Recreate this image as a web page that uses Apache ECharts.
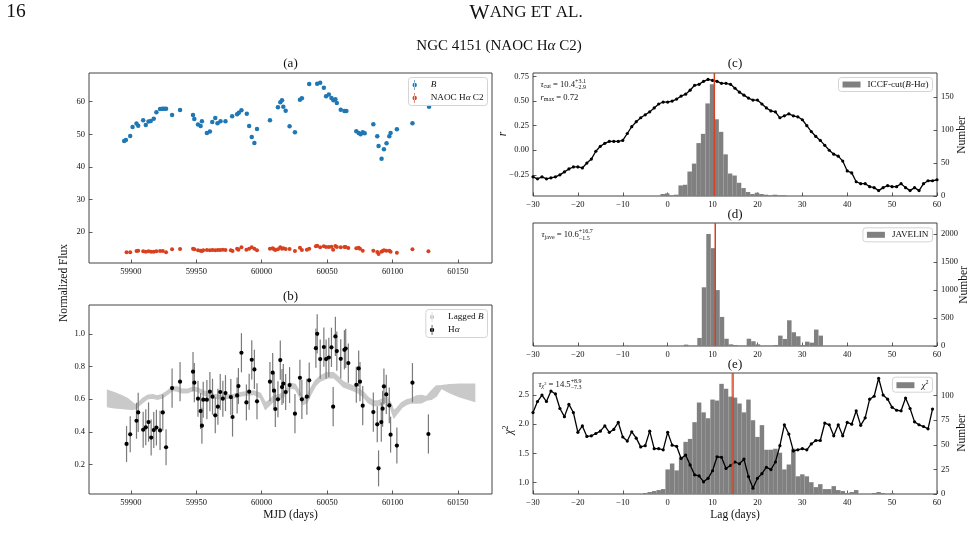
<!DOCTYPE html>
<html>
<head>
<meta charset="utf-8">
<title>NGC 4151 (NAOC Hα C2)</title>
<script src="https://cdn.jsdelivr.net/npm/echarts@6.0.0/dist/echarts.min.js"></script>
<style>
  html, body { margin: 0; padding: 0; background: #fff; }
  #chart { width: 975px; height: 547px; }
</style>
</head>
<body>
<div id="chart"></div>
<script>
// ---- (a) B band light curve ----
var bMjd = [59894.9, 59896.2, 59899.5, 59901.3, 59904.3, 59905.6, 59909.4, 59911.4, 59913.5, 59915.2,
  59917.5, 59919.5, 59922.3, 59924.1, 59925.4, 59926.9, 59931.5, 59937.6, 59947.5, 59948.5,
  59951.3, 59953.3, 59954.3, 59958.1, 59960.4, 59962.2, 59964.5, 59966.2, 59968.5, 59972.3,
  59977.4, 59981.2, 59982.5, 59984.5, 59988.6, 59990.4, 59992.4, 59994.4, 59996.4, 60006.3,
  60012.4, 60014.2, 60015.5, 60016.5, 60018.3, 60021.3, 60025.4, 60029.2, 60030.7, 60036.3,
  60042.4, 60044.7, 60047.5, 60049.2, 60051.3, 60053.3, 60054.8, 60056.3, 60057.4, 60060.4,
  60063.2, 60064.7, 60072.3, 60074.1, 60075.6, 60077.2, 60078.7, 60085.3, 60088.3, 60089.3,
  60091.6, 60093.4, 60095.4, 60097.5, 60098.5, 60103.3, 60115.2, 60127.9];
var bFlux = [47.96, 48.27, 49.49, 52.24, 53.27, 52.65, 54.29, 52.86, 53.88, 54.08,
  54.80, 56.73, 57.76, 57.86, 57.86, 57.86, 55.92, 57.45, 55.92, 54.69,
  52.96, 52.55, 53.98, 50.41, 50.82, 53.78, 55.00, 53.37, 53.98, 53.98,
  55.51, 56.12, 56.63, 57.35, 56.33, 52.55, 49.18, 47.35, 51.63, 54.29,
  58.27, 59.80, 60.41, 58.47, 57.24, 52.45, 50.61, 60.61, 61.02, 65.41,
  65.51, 65.82, 64.29, 61.63, 62.24, 61.12, 60.41, 60.71, 59.59, 57.55,
  57.14, 57.14, 50.92, 50.41, 50.00, 50.61, 50.31, 53.06, 49.39, 46.43,
  42.45, 45.41, 47.24, 49.39, 50.41, 51.53, 53.37, 58.47];

// ---- NAOC Halpha C2: epochs, flux in (a), normalized flux in (b) ----
var haMjd = [59896.7, 59899.5, 59904.3, 59905.6, 59909.4, 59911.4, 59913.5, 59915.5, 59917.5, 59919.5,
  59922.3, 59924.4, 59926.9, 59931.5, 59937.6, 59947.5, 59948.5, 59951.3, 59953.3, 59954.3,
  59955.3, 59958.1, 59960.4, 59962.4, 59964.5, 59966.5, 59968.3, 59970.3, 59972.3, 59976.4,
  59977.7, 59981.2, 59982.2, 59984.5, 59988.3, 59990.4, 59992.4, 59994.4, 59996.4, 60006.3,
  60008.4, 60009.4, 60010.4, 60012.4, 60014.2, 60015.5, 60016.5, 60018.3, 60021.3, 60025.4,
  60029.2, 60030.7, 60034.5, 60036.3, 60041.4, 60042.4, 60044.7, 60047.5, 60049.2, 60051.3,
  60053.3, 60054.6, 60056.3, 60057.4, 60060.4, 60063.2, 60064.2, 60066.2, 60072.3, 60074.1,
  60075.1, 60077.2, 60085.3, 60088.3, 60089.3, 60091.4, 60092.4, 60093.4, 60095.2, 60097.5,
  60098.5, 60103.3, 60115.2, 60127.4];
var haC2Flux = [13.77, 13.77, 14.18, 14.28, 14.07, 13.97, 14.07, 13.97, 13.97, 14.07,
  14.18, 14.18, 13.77, 14.69, 14.79, 14.89, 14.69, 14.38, 14.28, 14.18,
  14.38, 14.48, 14.38, 14.48, 14.38, 14.48, 14.48, 14.58, 14.48, 14.38,
  14.18, 14.89, 14.58, 15.30, 14.58, 14.89, 15.30, 14.89, 14.38, 14.89,
  14.99, 14.69, 14.48, 14.69, 15.30, 14.89, 14.99, 14.79, 14.79, 14.18,
  15.20, 14.48, 14.58, 14.89, 15.61, 15.81, 15.30, 15.61, 15.40, 15.40,
  15.50, 14.58, 15.71, 15.40, 15.30, 15.40, 15.40, 15.10, 14.99, 15.20,
  14.89, 14.28, 14.28, 13.87, 13.26, 13.97, 14.18, 14.38, 14.28, 14.28,
  13.97, 13.66, 14.69, 14.07];
var haNorm = [0.326, 0.385, 0.468, 0.519, 0.413, 0.428, 0.460, 0.365, 0.411, 0.426,
  0.409, 0.519, 0.306, 0.668, 0.707, 0.768, 0.701, 0.603, 0.527, 0.438,
  0.597, 0.597, 0.646, 0.615, 0.501, 0.554, 0.644, 0.603, 0.637, 0.613,
  0.491, 0.623, 0.680, 0.884, 0.580, 0.646, 0.841, 0.782, 0.587, 0.707,
  0.762, 0.652, 0.540, 0.599, 0.839, 0.674, 0.695, 0.644, 0.686, 0.511,
  0.731, 0.599, 0.615, 0.715, 0.912, 1.000, 0.845, 0.919, 0.845, 0.855,
  0.917, 0.554, 0.984, 0.894, 0.847, 0.902, 0.910, 0.821, 0.688, 0.788,
  0.707, 0.560, 0.521, 0.446, 0.177, 0.460, 0.542, 0.678, 0.629, 0.562,
  0.383, 0.316, 0.701, 0.387];
var haNormErr = [0.11, 0.11, 0.11, 0.12, 0.11, 0.11, 0.12, 0.11, 0.11, 0.11,
  0.12, 0.11, 0.11, 0.12, 0.12, 0.12, 0.12, 0.11, 0.11, 0.11,
  0.11, 0.12, 0.12, 0.11, 0.11, 0.11, 0.11, 0.11, 0.11, 0.11,
  0.12, 0.11, 0.11, 0.12, 0.11, 0.11, 0.12, 0.12, 0.11, 0.12,
  0.12, 0.11, 0.11, 0.11, 0.12, 0.11, 0.12, 0.11, 0.11, 0.12,
  0.11, 0.12, 0.11, 0.11, 0.12, 0.12, 0.12, 0.12, 0.12, 0.12,
  0.12, 0.12, 0.12, 0.12, 0.12, 0.12, 0.12, 0.12, 0.11, 0.11,
  0.12, 0.12, 0.12, 0.11, 0.11, 0.12, 0.11, 0.11, 0.12, 0.11,
  0.11, 0.11, 0.12, 0.12];

// ---- (b) lagged B band (lower / upper edge) ----
var lagBMjd = [59882.2, 59887.3, 59892.4, 59897.5, 59901.3, 59903.8, 59906.3, 59908.9, 59912.7, 59916.5,
  59920.3, 59924.1, 59927.9, 59931.7, 59935.5, 59939.3, 59943.1, 59948.2, 59952.0, 59955.8,
  59959.6, 59963.5, 59968.5, 59973.6, 59978.7, 59983.8, 59988.8, 59993.9, 59999.0, 60002.8,
  60005.3, 60009.1, 60014.2, 60018.0, 60021.8, 60025.6, 60028.7, 60031.5, 60034.5, 60037.1,
  60040.9, 60044.7, 60049.7, 60054.8, 60057.9, 60062.4, 60067.5, 60072.6, 60077.7, 60081.5,
  60085.3, 60089.1, 60092.9, 60095.9, 60098.5, 60101.0, 60103.6, 60106.9, 60110.7, 60114.5,
  60118.3, 60122.1, 60125.9, 60129.7, 60133.5, 60137.3, 60143.6, 60151.3, 60162.7];
var lagBLow = [0.554, 0.548, 0.544, 0.540, 0.538, 0.542, 0.562, 0.578, 0.603, 0.607,
  0.599, 0.609, 0.629, 0.654, 0.650, 0.640, 0.640, 0.654, 0.644, 0.627,
  0.615, 0.607, 0.603, 0.605, 0.609, 0.619, 0.625, 0.629, 0.609, 0.538,
  0.558, 0.589, 0.603, 0.623, 0.670, 0.664, 0.619, 0.568, 0.578, 0.623,
  0.680, 0.711, 0.729, 0.733, 0.711, 0.676, 0.660, 0.644, 0.615, 0.578,
  0.562, 0.562, 0.578, 0.582, 0.548, 0.487, 0.513, 0.548, 0.568, 0.578,
  0.576, 0.578, 0.595, 0.599, 0.619, 0.668, 0.640, 0.615, 0.588];
var lagBHigh = [0.654, 0.640, 0.623, 0.603, 0.578, 0.562, 0.582, 0.603, 0.623, 0.627,
  0.619, 0.629, 0.650, 0.674, 0.674, 0.660, 0.660, 0.674, 0.664, 0.650,
  0.635, 0.629, 0.623, 0.625, 0.629, 0.640, 0.646, 0.650, 0.635, 0.578,
  0.589, 0.619, 0.629, 0.650, 0.697, 0.690, 0.650, 0.603, 0.619, 0.660,
  0.711, 0.741, 0.762, 0.762, 0.741, 0.705, 0.688, 0.670, 0.644, 0.609,
  0.589, 0.589, 0.603, 0.609, 0.578, 0.527, 0.548, 0.578, 0.595, 0.603,
  0.619, 0.623, 0.615, 0.650, 0.680, 0.682, 0.688, 0.692, 0.692];

// ---- (c) ICCF ----
var ccfLag = [-30, -29, -28, -27, -26, -25, -24, -23, -22, -21, -20, -19, -18, -17, -16, -15, -14, -13, -12, -11,
  -10, -9, -8, -7, -6, -5, -4, -3, -2, -1, 0, 1, 2, 3, 4, 5, 6, 7, 8, 9,
  10, 11, 12, 13, 14, 15, 16, 17, 18, 19, 20, 21, 22, 23, 24, 25, 26, 27, 28, 29,
  30, 31, 32, 33, 34, 35, 36, 37, 38, 39, 40, 41, 42, 43, 44, 45, 46, 47, 48, 49,
  50, 51, 52, 53, 54, 55, 56, 57, 58, 59, 60];
var ccfR = [-0.27, -0.29, -0.27, -0.29, -0.28, -0.27, -0.25, -0.22, -0.19, -0.17, -0.17,
  -0.18, -0.13, -0.09, -0.01, 0.04, 0.07, 0.09, 0.09, 0.09, 0.10,
  0.17, 0.24, 0.29, 0.33, 0.36, 0.39, 0.43, 0.47, 0.49, 0.49,
  0.50, 0.52, 0.55, 0.57, 0.61, 0.66, 0.67, 0.70, 0.72, 0.71,
  0.70, 0.68, 0.68, 0.67, 0.63, 0.59, 0.56, 0.53, 0.51, 0.51,
  0.47, 0.43, 0.40, 0.39, 0.33, 0.35, 0.37, 0.35, 0.34, 0.31,
  0.25, 0.19, 0.14, 0.10, 0.05, 0.00, -0.04, -0.06, -0.11, -0.21,
  -0.23, -0.32, -0.34, -0.34, -0.37, -0.38, -0.41, -0.38, -0.36, -0.37,
  -0.37, -0.34, -0.38, -0.41, -0.38, -0.41, -0.34, -0.31, -0.31, -0.30];
var iccfEdges = [-1.6, -0.6, 0.4, 1.4, 2.4, 3.4, 4.4, 5.4, 6.4, 7.4, 8.4, 9.4, 10.4, 11.4, 12.4,
  13.4, 14.4, 15.4, 16.4, 17.4, 18.4, 19.4, 20.4, 21.4, 22.4, 23.4, 24.4, 25.4, 26.4];
var iccfCounts = [3, 4, 1, 2, 16, 17, 37, 49, 80, 94, 140, 169, 116, 97, 63, 34, 31, 20, 12, 6, 3, 5, 3, 2, 1, 2, 1, 1];
var tauCut = 10.4;

// ---- (d) JAVELIN ----
var javEdges = [2.6, 3.6, 4.6, 5.6, 6.6, 7.6, 8.6, 9.6, 10.6, 11.6, 12.6, 13.6, 14.6, 15.6, 16.6, 17.6, 18.6,
  19.6, 20.6, 21.6, 22.6, 23.6, 24.6, 25.6, 26.6, 27.6, 28.6, 29.6, 30.6, 31.6, 32.6, 33.6, 34.6];
var javCounts = [0, 25, 5, 5, 144, 1050, 2004, 1750, 1000, 520, 130, 30, 18, 5, 5, 130, 85, 30, 5, 5, 5, 18,
  186, 126, 460, 246, 174, 18, 78, 60, 294, 186];
var tauJav = 10.6;

// ---- (e) chi^2 ----
var chiLag = [-30, -29, -28, -27, -26, -25, -24, -23, -22, -21, -20, -19, -18, -17, -16, -15, -14, -13, -12, -11,
  -10, -9, -8, -7, -6, -5, -4, -3, -2, -1, 0, 1, 2, 3, 4, 5, 6, 7, 8, 9,
  10, 11, 12, 13, 14, 15, 16, 17, 18, 19, 20, 21, 22, 23, 24, 25, 26, 27, 28, 29,
  30, 31, 32, 33, 34, 35, 36, 37, 38, 39, 40, 41, 42, 43, 44, 45, 46, 47, 48, 49,
  50, 51, 52, 53, 54, 55, 56, 57, 58, 59];
var chiVal = [2.20, 2.39, 2.50, 2.39, 2.57, 2.52, 2.27, 2.13, 2.34, 2.20,
  1.86, 1.97, 1.79, 1.80, 1.84, 1.88, 1.97, 1.86, 1.91, 2.03,
  1.78, 1.71, 1.87, 1.76, 1.61, 1.63, 1.88, 1.58, 1.58, 1.56,
  1.86, 1.64, 1.62, 1.41, 1.47, 1.30, 1.13, 1.11, 1.01, 1.07,
  1.20, 1.44, 1.43, 1.24, 1.29, 1.35, 1.32, 1.40, 1.10, 0.90,
  1.07, 1.15, 1.26, 1.22, 1.35, 1.63, 1.99, 1.83, 1.54, 1.56,
  1.58, 1.56, 1.66, 1.72, 1.72, 2.02, 1.99, 1.80, 1.99, 1.80,
  2.03, 2.00, 2.23, 1.98, 2.11, 2.43, 2.48, 2.79, 2.50, 2.43,
  2.29, 2.24, 2.23, 2.45, 2.27, 2.04, 1.99, 1.96, 1.92, 2.26];
var chiEdges = [-5.5, -4.5, -3.5, -2.5, -1.5, -0.5, 0.5, 1.5, 2.5, 3.5, 4.5, 5.5, 6.5, 7.5, 8.5, 9.5,
  10.5, 11.5, 12.5, 13.5, 14.5, 15.5, 16.5, 17.5, 18.5, 19.5, 20.5, 21.5, 22.5, 23.5, 24.5,
  25.5, 26.5, 27.5, 28.5, 29.5, 30.5, 31.5, 32.5, 33.5, 34.5, 35.5, 36.5, 37.5, 38.5, 39.5,
  40.5, 41.5, 42.5, 43.5, 44.5, 45.5, 46.5, 47.5, 48.5, 49.5, 50.5];
var chiCounts = [1, 2, 3, 4, 5, 25, 31, 24, 38, 53, 56, 73, 93, 83, 77, 96, 95, 112, 107, 99, 98, 92, 83, 96, 75,
  58, 70, 45, 45, 46, 42, 25, 30, 46, 18, 20, 18, 12, 7, 10, 5, 5, 8, 4, 3, 1, 2, 4, 0, 0, 0, 1, 2, 1, 0, 1];
var tauChi = 14.5;

// ---- ticks ----
var mjdTicks = [59900, 59950, 60000, 60050, 60100, 60150];
var fluxTicks = [20, 30, 40, 50, 60];
var normTicks = [0.2, 0.4, 0.6, 0.8, 1.0];
var lagTicks = [-30, -20, -10, 0, 10, 20, 30, 40, 50, 60];
var rTicks = [-0.25, 0, 0.25, 0.5, 0.75];
var iccfNTicks = [0, 50, 100, 150];
var javNTicks = [0, 500, 1000, 1500, 2000];
var chiTicks = [1.0, 1.5, 2.0, 2.5];
var chiNTicks = [0, 25, 50, 75, 100];

var FONT = 'Liberation Serif';
var BLUE = '#1f77b4', RED = '#d8401f', GRAY = '#808080', BAND = '#c9c9c9';
var rMin = -0.465, rMax = 0.785, javNMax = 2200, chiMin = 0.80, chiMax = 2.88;

function minus(s) { return String(s).replace('-', '\u2212'); }

function xAx(grid, min, max, ticks, fmt) {
  return {
    type: 'value', gridIndex: grid, min: min, max: max,
    axisLine: { show: false, onZero: false }, splitLine: { show: false },
    axisTick: { inside: true, length: 3.5, lineStyle: { color: '#333', width: 0.8 }, customValues: ticks },
    axisLabel: { customValues: ticks, formatter: fmt, margin: 4, fontFamily: FONT, fontSize: 8.5, color: '#111' }
  };
}
function yAx(grid, min, max, ticks, fmt, pos) {
  return {
    type: 'value', gridIndex: grid, min: min, max: max, position: pos || 'left',
    axisLine: { show: false, onZero: false }, splitLine: { show: false },
    axisTick: { inside: true, length: 3.5, lineStyle: { color: '#333', width: 0.8 }, customValues: ticks },
    axisLabel: { customValues: ticks, formatter: fmt, margin: 4, fontFamily: FONT, fontSize: 8.5, color: '#111' }
  };
}

function histSeries(name, xi, yi, edges, counts) {
  var rows = counts.map(function (c, i) { return [edges[i], edges[i + 1], c]; });
  return {
    name: name, type: 'custom', xAxisIndex: xi, yAxisIndex: yi, data: rows, clip: true, z: 1,
    itemStyle: { color: GRAY }, encode: { x: [0, 1], y: 2 }, silent: true,
    renderItem: function (params, api) {
      var p0 = api.coord([api.value(0), 0]);
      var p1 = api.coord([api.value(1), api.value(2)]);
      return { type: 'rect', shape: { x: p0[0], y: p1[1], width: p1[0] - p0[0], height: p0[1] - p1[1] }, style: { fill: GRAY } };
    }
  };
}
function vline(xi, yi, x, y0, y1, width, color) {
  return { type: 'line', xAxisIndex: xi, yAxisIndex: yi, data: [[x, y0], [x, y1]], symbol: 'none', silent: true, z: 5,
    lineStyle: { color: color, width: width } };
}
function lagLine(name, xi, yi, xs, ys) {
  return {
    name: name, type: 'line', xAxisIndex: xi, yAxisIndex: yi, z: 4, silent: true,
    data: xs.map(function (x, i) { return [x, ys[i]]; }),
    symbol: 'circle', symbolSize: 3.2, showSymbol: true,
    itemStyle: { color: '#000', opacity: 1 }, lineStyle: { color: '#000', width: 1.3 }
  };
}

var ERR_ICON = 'path://M2.2,0h0.6v10h-0.6z M0.3,5a2.2,2.2 0 1,0 4.4,0a2.2,2.2 0 1,0 -4.4,0z';
var legendText = {
  'B': '{i|B}',
  'NAOC H\u03b1 C2': 'NAOC H{i|\u03b1} C2',
  'Lagged B': 'Lagged {i|B}',
  'H\u03b1': 'H{i|\u03b1}',
  'ICCF-cut(B-H\u03b1)': 'ICCF-cut({i|B}-H{i|\u03b1})',
  'JAVELIN': 'JAVELIN',
  'chi2': '{i|\u03c7}{s|2}'
};
function legend(items, right, top, w, h, gap) {
  return {
    data: items, orient: 'vertical', right: right, top: top, itemWidth: w, itemHeight: h, itemGap: gap,
    padding: [2.5, 4, 2.5, 4], borderColor: '#d4d4d4', borderWidth: 1, borderRadius: 3,
    backgroundColor: 'rgba(255,255,255,0.8)', selectedMode: false,
    formatter: function (n) { return legendText[n]; },
    textStyle: { fontFamily: FONT, fontSize: 9.2, color: '#111', padding: [0, 0, 0, 2],
      rich: { i: { fontFamily: FONT, fontSize: 9.2, fontStyle: 'italic', color: '#111' },
              s: { fontFamily: FONT, fontSize: 6, color: '#111', padding: [0, 0, 5, 0] } } }
  };
}

// text helpers (graphic)
var mctx = document.createElement('canvas').getContext('2d');
function tw(str, size, italic) {
  mctx.font = (italic ? 'italic ' : '') + size + 'px "' + FONT + '"';
  return mctx.measureText(str).width;
}
function T(x, y, text, size, opt) {
  opt = opt || {};
  var al = opt.align || 'center';
  return {
    type: 'text', x: x, y: y, rotation: opt.rot || 0, silent: true, z: 100,
    style: { text: text, fontFamily: FONT, fontSize: size, fontStyle: opt.italic ? 'italic' : 'normal', fill: '#111',
      align: al, verticalAlign: 'middle', textAlign: al, textVerticalAlign: 'middle', rich: opt.rich }
  };
}
function seq(x, y, pieces) {
  var out = [], cx = x;
  pieces.forEach(function (p) {
    if (p.stack) {
      var w = 0;
      p.stack.forEach(function (q) {
        out.push(T(cx, y + q.dy, q.t, q.size, { align: 'left', italic: q.italic }));
        w = Math.max(w, tw(q.t, q.size, q.italic));
      });
      cx += w;
    } else {
      out.push(T(cx, y + (p.dy || 0), p.t, p.size, { align: 'left', italic: p.italic }));
      cx += tw(p.t, p.size, p.italic);
    }
  });
  return out;
}
var M = 8.6, S = 6.0;
var richBase = { i: { fontFamily: FONT, fontStyle: 'italic', fontSize: 15, color: '#111' } };

var graphics = [
  T(16, 12, '16', 19.5),
  T(526, 13, '{w|W}{s|ANG ET AL.}', 16, { rich: { w: { fontFamily: FONT, fontSize: 21.5, color: '#111' }, s: { fontFamily: FONT, fontSize: 17, color: '#111' } } }),
  T(499, 46, 'NGC 4151 (NAOC H{i|\u03b1} C2)', 15, { rich: richBase }),
  T(290.5, 64, '(a)', 13), T(290.5, 297, '(b)', 13),
  T(735, 64, '(c)', 13), T(735, 215, '(d)', 13), T(735, 365, '(e)', 13),
  T(64, 283, 'Normalized Flux', 11.5, { rot: Math.PI / 2 }),
  T(290.5, 515, 'MJD (days)', 11.5),
  T(735, 515, 'Lag (days)', 11.5),
  T(503, 134, 'r', 11.5, { rot: Math.PI / 2, italic: true }),
  T(962, 135, 'Number', 11.5, { rot: Math.PI / 2 }),
  T(964, 285, 'Number', 11.5, { rot: Math.PI / 2 }),
  T(962, 433, 'Number', 11.5, { rot: Math.PI / 2 }),
  T(509, 430, '{i|\u03c7}{s|2}', 11.5, { rot: Math.PI / 2, rich: { i: { fontFamily: FONT, fontStyle: 'italic', fontSize: 11.5, color: '#111' }, s: { fontFamily: FONT, fontSize: 8, color: '#111', padding: [0, 0, 6, 0] } } })
].concat(
  seq(540.5, 84.3, [{ t: '\u03c4', size: M, italic: true }, { t: 'cut', size: S, dy: 2 }, { t: ' = 10.4', size: M },
    { stack: [{ t: '+3.1', size: S, dy: -3.3 }, { t: '\u22122.9', size: S, dy: 3.3 }] }]),
  seq(540.5, 97.3, [{ t: 'r', size: M, italic: true }, { t: 'max', size: S, dy: 2 }, { t: ' = 0.72', size: M }]),
  seq(541.5, 235, [{ t: '\u03c4', size: M, italic: true }, { t: 'jave', size: S, dy: 2 }, { t: ' = 10.6', size: M },
    { stack: [{ t: '+16.7', size: S, dy: -3.3 }, { t: '\u22121.5', size: S, dy: 3.3 }] }]),
  seq(538.5, 384.3, [{ t: '\u03c4', size: M, italic: true }, { t: '\u03c7', size: S, dy: 2, italic: true }, { t: '2', size: 4.5, dy: -0.5 },
    { t: ' = 14.5', size: M }, { stack: [{ t: '+8.9', size: S, dy: -3.3 }, { t: '\u22127.3', size: S, dy: 3.3 }] }])
);

var gridBase = { show: true, borderColor: '#444', borderWidth: 1, backgroundColor: 'transparent', outerBoundsMode: 'none' };
function G(l, t, w, h) { return Object.assign({ left: l, top: t, width: w, height: h }, gridBase); }

var option = {
  animation: false,
  backgroundColor: '#fff',
  grid: [G(89, 73, 403, 190), G(89, 305, 403, 189), G(533, 73, 404, 123), G(533, 223, 404, 123), G(533, 373, 404, 121)],
  xAxis: [
    xAx(0, 59868, 60176, mjdTicks, String),
    xAx(1, 59868, 60176, mjdTicks, String),
    xAx(2, -30, 60, lagTicks, minus),
    xAx(3, -30, 60, lagTicks, minus),
    xAx(4, -30, 60, lagTicks, minus)
  ],
  yAxis: [
    yAx(0, 10.5, 68.8, fluxTicks, String),
    yAx(1, 0.02, 1.176, normTicks, function (v) { return v.toFixed(1); }),
    yAx(2, rMin, rMax, rTicks, function (v) { return minus(v.toFixed(2)); }),
    yAx(2, 0, 186, iccfNTicks, String, 'right'),
    yAx(3, 0, javNMax, javNTicks, String, 'right'),
    yAx(4, chiMin, chiMax, chiTicks, function (v) { return v.toFixed(1); }),
    yAx(4, 0, 123, chiNTicks, String, 'right')
  ],
  legend: [
    legend([{ name: 'B', icon: ERR_ICON }, { name: 'NAOC H\u03b1 C2', icon: ERR_ICON }], 487.5, 77.5, 18, 10, 3),
    legend([{ name: 'Lagged B', icon: ERR_ICON }, { name: 'H\u03b1', icon: ERR_ICON }], 487.5, 309.5, 18, 10, 3),
    legend([{ name: 'ICCF-cut(B-H\u03b1)', icon: 'rect' }], 42.5, 77.5, 18, 6, 3),
    legend([{ name: 'JAVELIN', icon: 'rect' }], 42.5, 227.8, 18, 6, 3),
    legend([{ name: 'chi2', icon: 'rect' }], 42.5, 377.2, 18, 6, 3)
  ],
  graphic: { elements: graphics },
  series: [
    { name: 'B', type: 'scatter', xAxisIndex: 0, yAxisIndex: 0, symbolSize: 4.5, silent: true, z: 3,
      itemStyle: { color: BLUE, opacity: 1 }, data: bMjd.map(function (m, i) { return [m, bFlux[i]]; }) },
    { name: 'NAOC H\u03b1 C2', type: 'scatter', xAxisIndex: 0, yAxisIndex: 0, symbolSize: 4, silent: true, z: 3,
      itemStyle: { color: RED, opacity: 1 }, data: haMjd.map(function (m, i) { return [m, haC2Flux[i]]; }) },
    { name: 'Lagged B', type: 'custom', xAxisIndex: 1, yAxisIndex: 1, clip: true, z: 1, silent: true,
      itemStyle: { color: BAND }, encode: { x: 0, y: [1, 2] },
      data: lagBMjd.map(function (m, i) { return [m, lagBLow[i], lagBHigh[i]]; }),
      renderItem: function (params, api) {
        if (params.dataIndex !== 0) return null;
        var pts = [], i;
        for (i = 0; i < lagBMjd.length; i++) pts.push(api.coord([lagBMjd[i], lagBHigh[i]]));
        for (i = lagBMjd.length - 1; i >= 0; i--) pts.push(api.coord([lagBMjd[i], lagBLow[i]]));
        return { type: 'polygon', shape: { points: pts }, style: { fill: BAND, stroke: BAND, lineWidth: 1.5 } };
      } },
    { type: 'custom', xAxisIndex: 1, yAxisIndex: 1, clip: true, z: 2, silent: true, encode: { x: 0, y: [1, 2] },
      data: haMjd.map(function (m, i) { return [m, haNorm[i] - haNormErr[i], haNorm[i] + haNormErr[i]]; }),
      renderItem: function (params, api) {
        var a = api.coord([api.value(0), api.value(1)]), b = api.coord([api.value(0), api.value(2)]);
        return { type: 'line', shape: { x1: a[0], y1: a[1], x2: b[0], y2: b[1] }, style: { stroke: '#7a7a7a', lineWidth: 1.2 } };
      } },
    { name: 'H\u03b1', type: 'scatter', xAxisIndex: 1, yAxisIndex: 1, symbolSize: 4.2, silent: true, z: 3,
      itemStyle: { color: '#000', opacity: 1 }, data: haMjd.map(function (m, i) { return [m, haNorm[i]]; }) },

    histSeries('ICCF-cut(B-H\u03b1)', 2, 3, iccfEdges, iccfCounts),
    lagLine('ccf', 2, 2, ccfLag, ccfR),
    vline(2, 2, tauCut, rMin, rMax, 1.5, RED),

    histSeries('JAVELIN', 3, 4, javEdges, javCounts),
    vline(3, 4, tauJav, 0, javNMax, 1.5, RED),

    histSeries('chi2', 4, 6, chiEdges, chiCounts),
    lagLine('chiline', 4, 5, chiLag, chiVal),
    vline(4, 5, tauChi, chiMin, chiMax, 2.5, 'rgba(216,64,31,0.75)')
  ]
};

var chart = echarts.init(document.getElementById('chart'), null, { renderer: 'canvas' });
chart.setOption(option);
</script>
</body>
</html>
